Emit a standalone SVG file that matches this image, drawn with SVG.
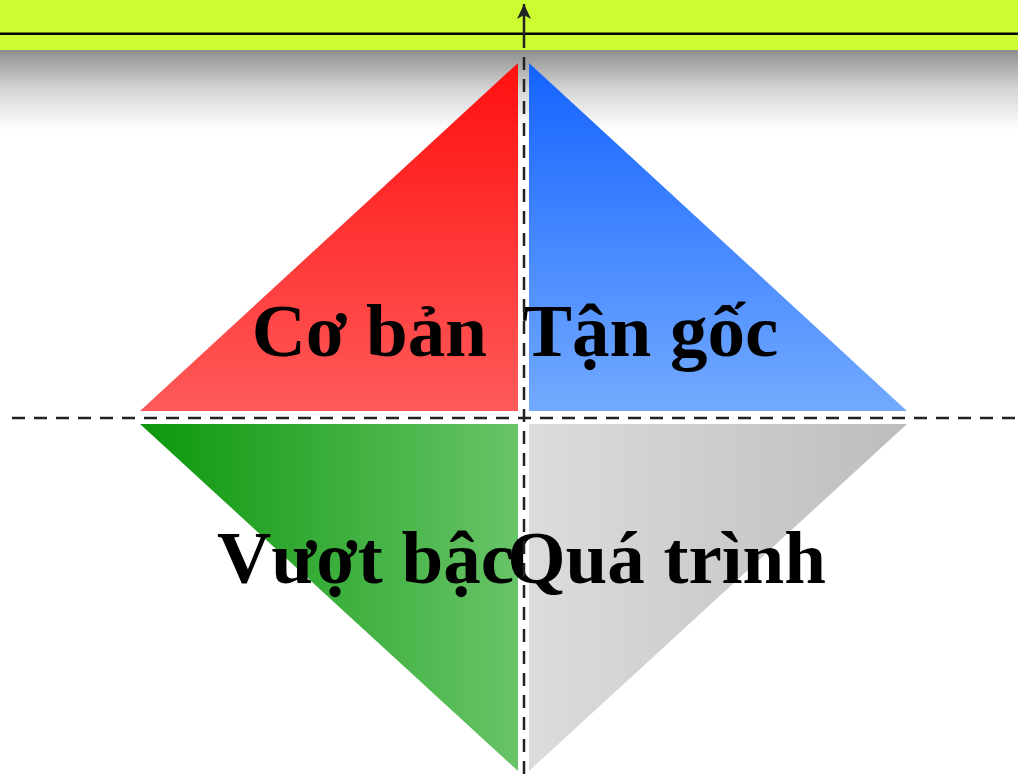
<svg xmlns="http://www.w3.org/2000/svg" width="1018" height="774" viewBox="0 0 1018 774">
  <defs>
    <linearGradient id="gShade" x1="0" y1="0" x2="0" y2="1">
      <stop offset="0" stop-color="#8f8f8f"/>
      <stop offset="0.5" stop-color="#d6d6d6"/>
      <stop offset="1" stop-color="#ffffff"/>
    </linearGradient>
    <linearGradient id="gRed" x1="0" y1="0" x2="0" y2="1">
      <stop offset="0" stop-color="#ff0f0f"/>
      <stop offset="1" stop-color="#ff5a5a"/>
    </linearGradient>
    <linearGradient id="gBlue" x1="0" y1="0" x2="0" y2="1">
      <stop offset="0" stop-color="#1463ff"/>
      <stop offset="1" stop-color="#73aaff"/>
    </linearGradient>
    <linearGradient id="gGreen" x1="0" y1="0" x2="1" y2="0">
      <stop offset="0" stop-color="#0c970c"/>
      <stop offset="1" stop-color="#68c468"/>
    </linearGradient>
    <linearGradient id="gGray" x1="0" y1="0" x2="1" y2="0">
      <stop offset="0" stop-color="#dcdcdc"/>
      <stop offset="1" stop-color="#bdbdbd"/>
    </linearGradient>
    <marker id="arrowUp" markerUnits="userSpaceOnUse" markerWidth="18" markerHeight="16" refX="16" refY="8" orient="auto" viewBox="0 0 18 16">
      <path d="M16 8 L1 1 L5 8 L1 15 Z" fill="#222"/>
    </marker>
    <style>
      .lbl { font-family: "Liberation Serif", "Times New Roman", serif; font-weight: bold; font-size: 75px; fill: #000; }
      .axis { stroke: #222; stroke-width: 2.5; fill: none; }
      .dash { stroke-dasharray: 13 9; }
    </style>
  </defs>

  <rect x="0" y="0" width="1018" height="774" fill="#ffffff"/>

  <g id="header">
    <rect x="0" y="50" width="1018" height="80" fill="url(#gShade)"/>
    <rect x="0" y="0" width="1018" height="50" fill="#ccfd33"/>
    <rect x="0" y="32.5" width="1018" height="2.5" fill="#000"/>
  </g>

  <g id="node-co-ban">
    <polygon points="518,63 518,411 140,411" fill="url(#gRed)"/>
    <text class="lbl" x="487" y="356" text-anchor="end">Cơ bản</text>
  </g>
  <g id="node-tan-goc">
    <polygon points="529,63 529,411 907,411" fill="url(#gBlue)"/>
    <text class="lbl" x="522" y="356">Tận gốc</text>
  </g>
  <g id="node-vuot-bac">
    <polygon points="140,424 518,424 518,771" fill="url(#gGreen)"/>
    <text class="lbl" x="217" y="583">Vượt bậc</text>
  </g>
  <g id="node-qua-trinh">
    <polygon points="529,424 907,424 529,771" fill="url(#gGray)"/>
    <text class="lbl" x="826" y="583" text-anchor="end">Quá trình</text>
  </g>

  <g id="connectors">
    <line class="axis dash" x1="12" y1="418" x2="1018" y2="418"/>
    <line class="axis dash" x1="524" y1="774" x2="524" y2="47"/>
    <line class="axis" x1="524" y1="47" x2="524" y2="4" stroke-width="2" marker-end="url(#arrowUp)"/>
  </g>
</svg>
